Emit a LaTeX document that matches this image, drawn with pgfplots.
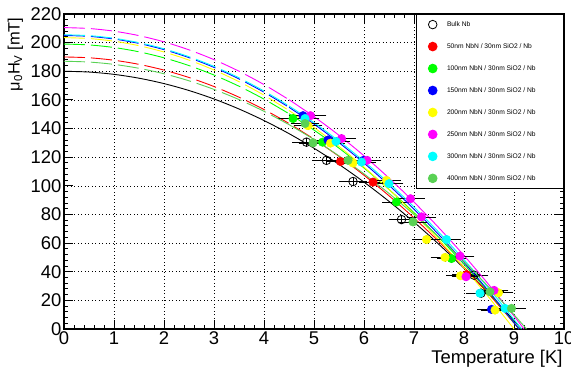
\documentclass[border=0pt]{standalone}
\usepackage{fontspec}
\setmainfont{Liberation Sans}
\usepackage{pgfplots}
\pgfplotsset{compat=1.18}
\definecolor{cRed}{rgb}{1,0,0}
\definecolor{cGreen}{rgb}{0,1,0}
\definecolor{cBlue}{rgb}{0,0,1}
\definecolor{cYellow}{rgb}{1,1,0}
\definecolor{cMagenta}{rgb}{1,0,1}
\definecolor{cCyan}{rgb}{0,1,1}
\definecolor{cLGreen}{rgb}{0.35,0.82,0.33}
\pgfplotsset{
  fitdash/.style={no marks, line width=0.9pt, dash pattern=on 21bp off 6bp, forget plot, smooth},
  fitsolid/.style={no marks, line width=0.9pt, forget plot, smooth},
  pts/.style={only marks, mark=*, mark size=4.3pt,
     /pgfplots/error bars/x dir=both, /pgfplots/error bars/x explicit,
     /pgfplots/error bars/y dir=both, /pgfplots/error bars/y explicit,
     /pgfplots/error bars/error bar style={black, line width=0.6pt},
     /pgfplots/error bars/error mark options={black, line width=0.6pt, mark size=2pt}},
}
\newcommand{\lt}[1]{\makebox[105bp][l]{#1}}
\begin{document}
\begin{tikzpicture}
\useasboundingbox (-64bp,-41bp) rectangle (507bp,329bp);
\begin{axis}[
  at={(0,0)}, anchor=south west,
  scale only axis, width=500bp, height=315bp,
  xmin=0, xmax=10, ymin=0, ymax=220,
  xtick={0,1,...,10}, ytick={0,20,...,220},
  minor x tick num=4, minor y tick num=4,
  xtick pos=both, ytick pos=both, tick align=inside,
  xticklabel pos=lower, yticklabel pos=left,
  major tick length=9bp, minor tick length=4.5bp,
  tick style={black, line width=1pt},
  axis line style={line width=1.3pt},
  grid=major, major grid style={black, line width=0.6pt, dash pattern=on 1bp off 2.5bp},
  tick label style={font=\fontsize{18.5}{18.5}\selectfont},
  /pgf/number format/assume math mode=true,
  xticklabel style={yshift=1bp},
  yticklabel style={xshift=1bp},
  xlabel={Temperature [K]},
  xlabel style={font=\fontsize{18.5}{19}\selectfont, at={(axis description cs:1.004,-0.057)}, anchor=north east},
  ylabel={μ\textsubscript{0}H\textsubscript{V} [mT]},
  ylabel style={font=\fontsize{16.5}{17}\selectfont, at={(axis description cs:-0.075,1.0)}, anchor=south east},
  legend style={at={(1,1)}, anchor=north east, draw=black, line width=1pt, fill=white,
     font=\fontsize{6.7}{7}\selectfont, inner xsep=11.5bp, inner ysep=5.8bp,
     nodes={inner sep=0pt, text height=5pt, text depth=1.5pt},
     row sep=13.4bp,
     /tikz/every odd column/.append style={column sep=10bp}},
  legend cell align=left,
]
% ---- Bulk Nb ----
\addplot[fitsolid, black] coordinates {(0,180) (0.5,179.46) (1,177.85) (1.5,175.16) (2,171.40) (2.5,166.56) (3,160.65) (3.5,153.66) (4,145.60) (4.5,136.46) (5,126.25) (5.5,114.96) (6,102.60) (6.5,89.16) (7,74.65) (7.5,59.07) (8,42.40) (8.5,24.67) (9,5.85) (9.15,0)};
\addplot[pts, black, mark=o, mark options={line width=0.8pt, fill=none}] coordinates {
 (4.85,130.5) +- (0.25,1.5)
 (5.25,117.8) +- (0.25,1.5)
 (5.78,103.0) +- (0.25,1.5)
 (6.75,76.4) +- (0.22,1.5)
 (8.20,37.6) +- (0.25,1.5)
 (8.34,25.0) +- (0.25,1.5)};
\addlegendentry{\lt{Bulk Nb}}
% ---- 50 nm ----
\addplot[fitdash, cRed] coordinates {(0,190) (0.5,189.43) (1,187.71) (1.5,184.84) (2,180.82) (2.5,175.66) (3,169.35) (3.5,161.89) (4,153.29) (4.5,143.54) (5,132.64)};
\addplot[fitsolid, cRed] coordinates {(5,132.64) (5.5,120.59) (6,107.40) (6.5,93.06) (7,77.57) (7.5,60.94) (8,43.16) (8.5,24.23) (9,4.15) (9.1,0)};
\addplot[pts, cRed, mark options={fill=cRed, draw=cRed}] coordinates {
 (5.53,117.0) +- (0.25,1.5)
 (6.18,102.6) +- (0.25,1.5)
 (8.05,38.0) +- (0.25,1.5)};
\addlegendentry{\lt{50nm NbN / 30nm SiO2 / Nb}}
% ---- 100 nm ----
\addplot[fitdash, cGreen] coordinates {(0,199) (0.5,198.40) (1,196.60) (1.5,193.59) (2,189.39) (2.5,183.98) (3,177.37) (3.5,169.56) (4,160.55) (4.5,150.34)};
\addplot[fitsolid, cGreen] coordinates {(4.5,150.34) (5,138.92) (5.5,126.31) (6,112.49) (6.5,97.47) (7,81.25) (7.5,63.83) (8,45.20) (8.5,25.38) (9,4.35) (9.1,0)};
\addplot[pts, cGreen, mark options={fill=cGreen, draw=cGreen}] coordinates {
 (4.58,147.0) +- (0.28,1.5)
 (5.17,130.5) +- (0.25,1.5)
 (6.65,88.7) +- (0.25,1.5)
 (7.75,49.2) +- (0.25,1.5)};
\addlegendentry{\lt{100nm NbN / 30nm SiO2 / Nb}}
% ---- 150 nm ----
\addplot[fitdash, cBlue] coordinates {(0,205) (0.5,204.38) (1,202.52) (1.5,199.43) (2,195.10) (2.5,189.53) (3,182.72) (3.5,174.67) (4,165.39) (4.5,154.87)};
\addplot[fitsolid, cBlue] coordinates {(4.5,154.87) (5,143.11) (5.5,130.12) (6,115.88) (6.5,100.41) (7,83.70) (7.5,65.75) (8,46.57) (8.5,26.14) (9,4.48) (9.1,0)};
\addplot[pts, cBlue, mark options={fill=cBlue, draw=cBlue}] coordinates {
 (4.78,149.0) +- (0.25,1.5)
 (5.28,132.0) +- (0.25,1.5)
 (5.99,117.8) +- (0.25,1.5)
 (8.55,13.7) +- (0.25,1.5)};
\addlegendentry{\lt{150nm NbN / 30nm SiO2 / Nb}}
% ---- 200 nm ----
\addplot[fitdash, cYellow] coordinates {(0,203.5) (0.5,202.87) (1,200.99) (1.5,197.85) (2,193.45) (2.5,187.80) (3,180.89) (3.5,172.72) (4,163.30) (4.5,152.62)};
\addplot[fitsolid, cYellow] coordinates {(4.5,152.62) (5,140.69) (5.5,127.50) (6,113.06) (6.5,97.35) (7,80.39) (7.5,62.18) (8,42.71) (8.5,21.98) (9,0)};
\addplot[pts, cYellow, mark options={fill=cYellow, draw=cYellow}] coordinates {
 (4.88,142.0) +- (0.25,1.5)
 (5.33,129.8) +- (0.25,1.5)
 (5.78,115.9) +- (0.25,1.5)
 (6.45,103.8) +- (0.25,1.5)
 (7.25,62.5) +- (0.25,1.5)
 (7.62,50.0) +- (0.25,1.5)
 (7.93,37.2) +- (0.25,1.5)
 (8.69,25.3) +- (0.25,1.5)
 (8.62,13.2) +- (0.25,1.5)};
\addlegendentry{\lt{200nm NbN / 30nm SiO2 / Nb}}
% ---- 250 nm ----
\addplot[fitdash, cMagenta] coordinates {(0,210.5) (0.5,209.88) (1,208.01) (1.5,204.90) (2,200.55) (2.5,194.96) (3,188.12) (3.5,180.03) (4,170.71) (4.5,160.14)};
\addplot[fitsolid, cMagenta] coordinates {(4.5,160.14) (5,148.33) (5.5,135.27) (6,120.97) (6.5,105.42) (7,88.64) (7.5,70.61) (8,51.33) (8.5,30.81) (9,9.05) (9.2,0)};
\addplot[pts, cMagenta, mark options={fill=cMagenta, draw=cMagenta}] coordinates {
 (4.93,149.0) +- (0.28,1.5)
 (5.55,133.0) +- (0.25,1.5)
 (6.06,117.8) +- (0.25,1.5)
 (6.93,91.0) +- (0.25,1.5)
 (7.15,78.3) +- (0.25,1.5)
 (7.92,50.9) +- (0.25,1.5)
 (8.04,36.5) +- (0.25,1.5)
 (8.60,27.0) +- (0.25,1.5)};
\addlegendentry{\lt{250nm NbN / 30nm SiO2 / Nb}}
% ---- 300 nm ----
\addplot[fitdash, cCyan] coordinates {(0,205.5) (0.5,204.89) (1,203.05) (1.5,199.98) (2,195.68) (2.5,190.16) (3,183.41) (3.5,175.43) (4,166.23) (4.5,155.80)};
\addplot[fitsolid, cCyan] coordinates {(4.5,155.80) (5,144.14) (5.5,131.25) (6,117.14) (6.5,101.80) (7,85.23) (7.5,67.43) (8,48.41) (8.5,28.16) (9,6.68) (9.15,0)};
\addplot[pts, cCyan, mark options={fill=cCyan, draw=cCyan}] coordinates {
 (4.82,147.0) +- (0.25,1.5)
 (5.44,131.0) +- (0.25,1.5)
 (5.95,116.6) +- (0.25,1.5)
 (6.50,101.5) +- (0.25,1.5)
 (7.65,62.5) +- (0.25,1.5)
 (8.32,25.0) +- (0.25,1.5)
 (8.82,14.4) +- (0.25,1.5)};
\addlegendentry{\lt{300nm NbN / 30nm SiO2 / Nb}}
% ---- 400 nm ----
\addplot[fitdash, cLGreen] coordinates {(0,187) (0.5,186.45) (1,184.81) (1.5,182.08) (2,178.26) (2.5,173.34) (3,167.33) (3.5,160.23) (4,152.03) (4.5,142.74)};
\addplot[fitsolid, cLGreen] coordinates {(4.5,142.74) (5,132.36) (5.5,120.89) (6,108.32) (6.5,94.66) (7,79.91) (7.5,64.06) (8,47.13) (8.5,29.10) (9,9.97) (9.25,0)};
\addplot[pts, cLGreen, mark options={fill=cLGreen, draw=cLGreen}] coordinates {
 (4.82,143.5) +- (0.25,1.5)
 (4.98,130.0) +- (0.25,1.5)
 (5.68,117.8) +- (0.25,1.5)
 (6.98,74.8) +- (0.25,1.5)
 (8.52,26.0) +- (0.25,1.5)
 (8.95,14.4) +- (0.25,1.5)};
\addlegendentry{\lt{400nm NbN / 30nm SiO2 / Nb}}
\end{axis}
\end{tikzpicture}
\end{document}
